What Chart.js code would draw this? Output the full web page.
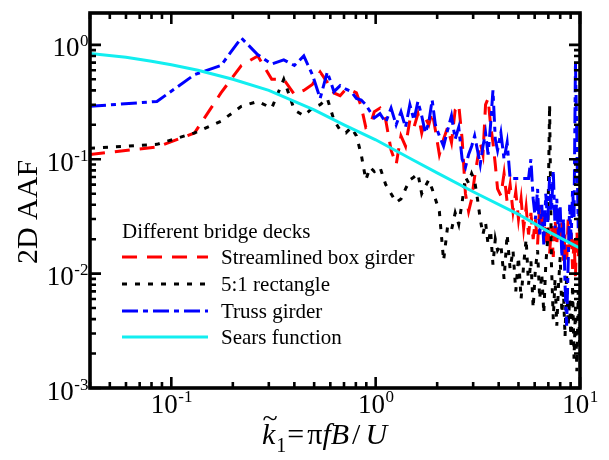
<!DOCTYPE html>
<html>
<head>
<meta charset="utf-8">
<title>2D AAF of bridge decks</title>
<script src="https://cdn.jsdelivr.net/npm/chart.js@4.4.0/dist/chart.umd.min.js"></script>
<style>
  body { margin: 0; background: #fff; }
  #wrap { width: 609px; height: 460px; }
</style>
</head>
<body>
<div id="wrap"><canvas id="myChart" width="609" height="460"></canvas></div>
<script>
//--------------------------------Data--------------------------------

var kValues = [
  0.04, 0.085, 0.13, 0.175, 0.22, 0.265, 0.31, 0.355, 0.40, 0.445, 0.49, 0.535, 0.58, 0.625, 0.67, 0.715, 0.76, 0.805, 0.85, 0.895, 0.94, 0.985,
  1.05, 1.12, 1.19, 1.26, 1.33, 1.40, 1.47, 1.54, 1.61, 1.68, 1.75, 1.82, 1.89, 1.96,
  2.05, 2.15, 2.25, 2.35, 2.45, 2.55, 2.65, 2.75, 2.85, 2.95, 3.05, 3.15, 3.25, 3.35, 3.45, 3.55, 3.65, 3.75, 3.85, 3.95,
  4.10, 4.25, 4.40, 4.55, 4.70, 4.85, 5.00, 5.15, 5.30, 5.45, 5.60, 5.75, 5.90, 6.05, 6.20, 6.35, 6.50, 6.65, 6.80, 6.95,
  7.10, 7.25, 7.40, 7.55, 7.70, 7.85, 8.00, 8.15, 8.30, 8.45, 8.60, 8.75, 8.90, 9.05, 9.20, 9.35, 9.50, 9.65, 9.80, 9.95
];

// streamlined box girder (red dashed)
var boxGirder = [
  0.11, 0.128, 0.17, 0.38, 0.66, 0.80, 0.50, 0.50, 0.37, 0.40, 0.45, 0.58, 0.47, 0.38, 0.36, 0.41, 0.40, 0.38, 0.29, 0.19, 0.20, 0.26,
  0.28, 0.22, 0.12, 0.09, 0.16, 0.13, 0.22, 0.19, 0.25, 0.17, 0.23, 0.20, 0.26, 0.18,
  0.11, 0.15, 0.19, 0.14, 0.27, 0.30, 0.15, 0.05, 0.035, 0.045, 0.07, 0.10, 0.14, 0.11, 0.30, 0.34, 0.20, 0.14, 0.09, 0.055,
  0.048, 0.075, 0.042, 0.060, 0.035, 0.052, 0.030, 0.045, 0.025, 0.038, 0.022, 0.034, 0.020, 0.030, 0.018, 0.040, 0.022, 0.032, 0.017, 0.028,
  0.015, 0.026, 0.014, 0.030, 0.018, 0.035, 0.020, 0.028, 0.013, 0.022, 0.012, 0.030, 0.016, 0.025, 0.011, 0.020, 0.0095, 0.024, 0.014, 0.026
];

// 5:1 rectangle (black dotted)
var rectangle = [
  0.125, 0.135, 0.17, 0.215, 0.29, 0.32, 0.28, 0.50, 0.27, 0.24, 0.28, 0.30, 0.34, 0.22, 0.18, 0.17, 0.19, 0.16, 0.11, 0.066, 0.085, 0.078,
  0.085, 0.060, 0.050, 0.042, 0.045, 0.055, 0.066, 0.070, 0.075, 0.050, 0.058, 0.066, 0.055, 0.045,
  0.035, 0.013, 0.026, 0.024, 0.034, 0.027, 0.042, 0.070, 0.062, 0.075, 0.065, 0.045, 0.030, 0.022, 0.028, 0.018, 0.024, 0.012, 0.020, 0.016,
  0.018, 0.009, 0.022, 0.011, 0.016, 0.007, 0.014, 0.006, 0.012, 0.020, 0.008, 0.013, 0.005, 0.011, 0.016, 0.006, 0.010, 0.0045, 0.012, 0.020,
  0.30, 0.012, 0.004, 0.009, 0.0035, 0.008, 0.014, 0.0045, 0.007, 0.0028, 0.010, 0.0035, 0.006, 0.0022, 0.008, 0.0018, 0.005, 0.0014, 0.007, 0.0025
];

// truss girder (blue dash-dot)
var trussGirder = [
  0.29, 0.32, 0.55, 0.66, 1.15, 0.82, 0.68, 0.74, 0.66, 0.80, 0.55, 0.34, 0.58, 0.39, 0.44, 0.41, 0.39, 0.34, 0.33, 0.30, 0.26, 0.23,
  0.25, 0.21, 0.28, 0.20, 0.26, 0.19, 0.30, 0.22, 0.32, 0.24, 0.17, 0.21, 0.33, 0.20,
  0.16, 0.13, 0.18, 0.24, 0.15, 0.19, 0.10, 0.085, 0.11, 0.13, 0.16, 0.12, 0.09, 0.13, 0.17, 0.11, 0.20, 0.40, 0.15, 0.12,
  0.17, 0.10, 0.14, 0.068, 0.068, 0.068, 0.068, 0.068, 0.068, 0.068, 0.068, 0.10, 0.045, 0.030, 0.055, 0.022, 0.040, 0.018, 0.050, 0.028,
  0.070, 0.035, 0.080, 0.025, 0.045, 0.020, 0.038, 0.014, 0.030, 0.008, 0.0035, 0.012, 0.040, 0.020, 0.055, 0.030, 0.70, 0.15, 0.025, 0.045
];

// Sears function (cyan solid)
var searsK = [0.04, 0.06, 0.08, 0.1, 0.135, 0.2, 0.3, 0.5, 0.7, 1.0, 1.5, 2, 3, 5, 7, 10];
var searsAAF = [0.84, 0.78, 0.72, 0.67, 0.60, 0.50, 0.40, 0.27, 0.20, 0.148, 0.10, 0.076, 0.052, 0.033, 0.0233, 0.0167];

var seriesNames = ['Streamlined box girder', '5:1 rectangle', 'Truss girder', 'Sears function'];
var legendTitle = 'Different bridge decks';

var xTickValues = [0.1, 1, 10];
var xTickExponents = ['-1', '0', '1'];
var yTickValues = [0.001, 0.01, 0.1, 1];
var yTickExponents = ['-3', '-2', '-1', '0'];

//----------------------------------------------------------------

var FONT = '"Liberation Serif", "Times New Roman", Times, serif';

function pairs(xs, ys) {
  return xs.map(function (x, i) { return { x: x, y: ys[i] }; });
}

var datasets = [
  { label: seriesNames[0], data: pairs(kValues, boxGirder), borderColor: '#ff0000', borderDash: [15, 10], order: 3 },
  { label: seriesNames[1], data: pairs(kValues, rectangle), borderColor: '#000000', borderDash: [5, 8], order: 2 },
  { label: seriesNames[2], data: pairs(kValues, trussGirder), borderColor: '#0000ff', borderDash: [16, 5, 5, 5], order: 1 },
  { label: seriesNames[3], data: pairs(searsK, searsAAF), borderColor: '#12eef0', borderDash: [], order: 0 }
];
datasets.forEach(function (d) {
  d.borderWidth = 3;
  d.pointRadius = 0;
  d.fill = false;
  d.tension = 0;
  d.borderCapStyle = 'butt';
  d.borderJoinStyle = 'miter';
});

// all 1..9 x 10^n values inside [min, max]
function logTicks(min, max) {
  var out = [];
  for (var e = Math.floor(Math.log10(min)); e <= Math.ceil(Math.log10(max)); e++) {
    for (var m = 1; m <= 9; m++) {
      var v = m * Math.pow(10, e);
      if (v >= min * 0.999 && v <= max * 1.001) out.push({ v: v, major: m === 1 });
    }
  }
  return out;
}

// "10" with a raised exponent
function drawPower(ctx, exp, x, y, align, bigPx, smallPx, rise) {
  ctx.font = bigPx + 'px ' + FONT;
  var wb = ctx.measureText('10').width;
  ctx.font = smallPx + 'px ' + FONT;
  var we = ctx.measureText(exp).width;
  var start = align === 'right' ? x - wb - we : x - (wb + we) / 2;
  ctx.textAlign = 'left';
  ctx.textBaseline = 'alphabetic';
  ctx.font = bigPx + 'px ' + FONT;
  ctx.fillText('10', start, y);
  ctx.font = smallPx + 'px ' + FONT;
  ctx.fillText(exp, start + wb + 0.5, y - rise);
}

var axesPlugin = {
  id: 'axesPlugin',
  afterDraw: function (chart) {
    var ctx = chart.ctx, a = chart.chartArea;
    var xs = chart.scales.x, ys = chart.scales.y;
    ctx.save();
    ctx.strokeStyle = '#000';
    ctx.fillStyle = '#000';
    ctx.lineCap = 'butt';

    // inward ticks on all four sides
    ctx.lineWidth = 2.6;
    logTicks(xs.min, xs.max).forEach(function (t) {
      var px = xs.getPixelForValue(t.v), len = t.major ? 11 : 6;
      ctx.beginPath();
      ctx.moveTo(px, a.bottom); ctx.lineTo(px, a.bottom - len);
      ctx.moveTo(px, a.top); ctx.lineTo(px, a.top + len);
      ctx.stroke();
    });
    logTicks(ys.min, ys.max).forEach(function (t) {
      var py = ys.getPixelForValue(t.v), len = t.major ? 11 : 6;
      ctx.beginPath();
      ctx.moveTo(a.left, py); ctx.lineTo(a.left + len, py);
      ctx.moveTo(a.right, py); ctx.lineTo(a.right - len, py);
      ctx.stroke();
    });

    // frame
    ctx.lineWidth = 3.6;
    ctx.strokeRect(a.left, a.top, a.right - a.left, a.bottom - a.top);

    // tick labels
    xTickValues.forEach(function (v, i) {
      drawPower(ctx, xTickExponents[i], xs.getPixelForValue(v), 413, 'center', 27, 17, 11);
    });
    yTickValues.forEach(function (v, i) {
      drawPower(ctx, yTickExponents[i], 88, ys.getPixelForValue(v) + 11.5, 'right', 27, 17, 10);
    });

    // y axis title
    ctx.save();
    ctx.translate(37, 212);
    ctx.rotate(-Math.PI / 2);
    ctx.font = '30px ' + FONT;
    ctx.textAlign = 'center';
    ctx.fillText('2D AAF', 0, 0);
    ctx.restore();

    // x axis title: k~1 = pi f B / U
    var x = 262, base = 444;
    ctx.textAlign = 'left';
    ctx.font = 'italic 30px ' + FONT;
    ctx.fillText('k', x, base);
    var kw = ctx.measureText('k').width;
    ctx.font = '28px ' + FONT;
    var tm = ctx.measureText('~');
    var tw = tm.width;
    var tcy = 418;
    ctx.fillText('~', x + kw / 2 - tw / 2 + 1.5, tcy + (tm.actualBoundingBoxAscent - tm.actualBoundingBoxDescent) / 2);
    x += kw + 1;
    ctx.font = '20px ' + FONT;
    ctx.fillText('1', x, base + 8);
    x += ctx.measureText('1').width + 1;
    ctx.font = '30px ' + FONT;
    ctx.fillText('=', x, base);
    x += ctx.measureText('=').width + 3;
    ctx.fillText('\u03c0', x, base);
    x += ctx.measureText('\u03c0').width;
    ctx.font = 'italic 30px ' + FONT;
    ctx.fillText('fB', x, base);
    x += ctx.measureText('fB').width + 3;
    ctx.font = '30px ' + FONT;
    ctx.fillText('/', x, base);
    x += ctx.measureText('/').width + 5;
    ctx.font = 'italic 30px ' + FONT;
    ctx.fillText('U', x, base);

    // legend inside the plot
    ctx.font = '21px ' + FONT;
    ctx.fillText(legendTitle, 122, 238);
    var rowY = [257, 284, 311, 337];
    [0, 1, 2, 3].forEach(function (i) {
      var ds = chart.data.datasets[i];
      ctx.save();
      ctx.strokeStyle = ds.borderColor;
      ctx.lineWidth = 3;
      ctx.setLineDash(ds.borderDash);
      ctx.beginPath();
      ctx.moveTo(122, rowY[i]);
      ctx.lineTo(208, rowY[i]);
      ctx.stroke();
      ctx.restore();
      ctx.fillText(ds.label, 221, rowY[i] + 7);
    });

    ctx.restore();
  }
};

var myChart = new Chart(document.getElementById('myChart'), {
  type: 'line',
  data: { datasets: datasets },
  options: {
    responsive: false,
    animation: false,
    layout: { padding: { top: 13, right: 29, left: 0, bottom: 0 } },
    plugins: { legend: { display: false }, tooltip: { enabled: false } },
    scales: {
      x: {
        type: 'logarithmic', min: 0.04, max: 10,
        grid: { display: false }, border: { display: false }, ticks: { display: false },
        afterFit: function (s) { s.height = 72; }
      },
      y: {
        type: 'logarithmic', min: 0.001, max: 1.9,
        grid: { display: false }, border: { display: false }, ticks: { display: false },
        afterFit: function (s) { s.width = 90; }
      }
    }
  },
  plugins: [axesPlugin]
});
</script>
</body>
</html>
